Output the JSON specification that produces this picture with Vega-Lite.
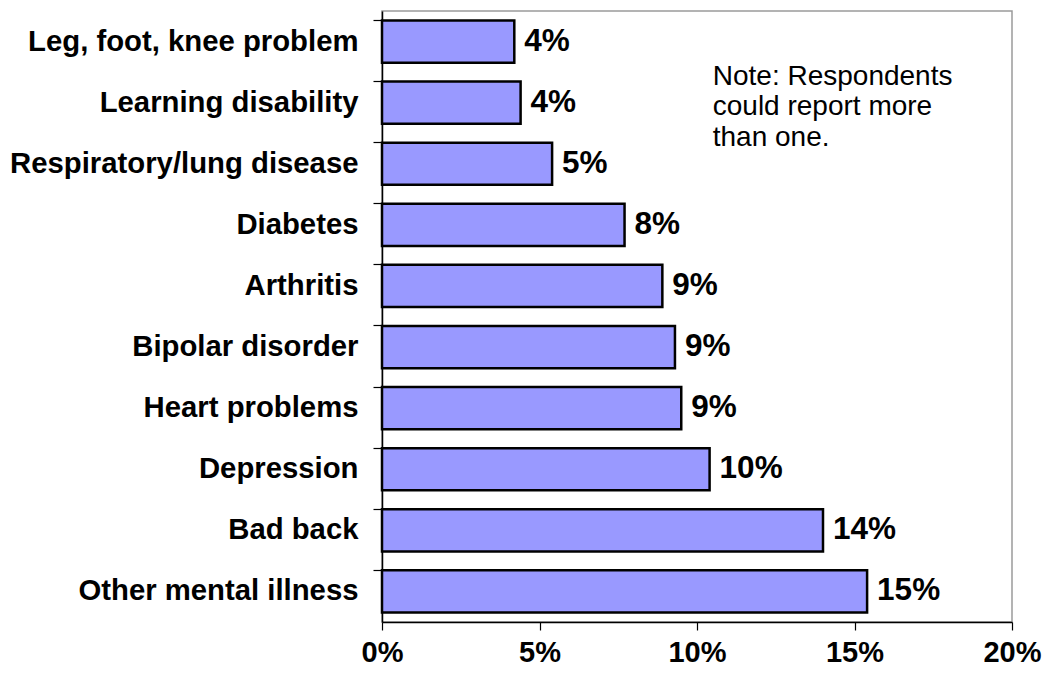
{
  "$schema": "https://vega.github.io/schema/vega-lite/v6.json",
  "width": 630,
  "height": 611,
  "autosize": {"type": "none"},
  "padding": {"left": 382, "top": 11, "right": 39, "bottom": 53},
  "background": "white",
  "config": {
    "font": "Liberation Sans",
    "view": {"stroke": "#9a9a9a", "strokeWidth": 1.5}
  },
  "data": {
    "values": [
      {"condition": "Leg, foot, knee problem", "pct": 4.2, "label": "4%"},
      {"condition": "Learning disability", "pct": 4.4, "label": "4%"},
      {"condition": "Respiratory/lung disease", "pct": 5.4, "label": "5%"},
      {"condition": "Diabetes", "pct": 7.7, "label": "8%"},
      {"condition": "Arthritis ", "pct": 8.9, "label": "9%"},
      {"condition": "Bipolar disorder", "pct": 9.3, "label": "9%"},
      {"condition": "Heart problems", "pct": 9.5, "label": "9%"},
      {"condition": "Depression", "pct": 10.4, "label": "10%"},
      {"condition": "Bad back", "pct": 14.0, "label": "14%"},
      {"condition": "Other mental illness", "pct": 15.4, "label": "15%"}
    ]
  },
  "encoding": {
    "y": {
      "field": "condition",
      "type": "nominal",
      "sort": null,
      "scale": {"paddingInner": 0.31, "paddingOuter": 0.155},
      "axis": {
        "title": null,
        "bandPosition": 0,
        "domainColor": "black",
        "domainWidth": 1.5,
        "tickColor": "black",
        "tickWidth": 1.2,
        "tickSize": 9,
        "labelFontSize": 29.3,
        "labelFontWeight": "bold",
        "labelColor": "black",
        "labelPadding": 15,
        "labelLimit": 400,
        "labelExpr": "datum.value == 'Arthritis ' ? 'Arthritis\u00a0' : datum.value"
      }
    },
    "x": {
      "field": "pct",
      "type": "quantitative",
      "scale": {"domain": [0, 20], "nice": false},
      "axis": {
        "title": null,
        "values": [0, 5, 10, 15, 20],
        "grid": false,
        "domainColor": "black",
        "domainWidth": 1.5,
        "tickColor": "black",
        "tickWidth": 1.2,
        "tickSize": 8,
        "labelFontSize": 29,
        "labelFontWeight": "bold",
        "labelColor": "black",
        "labelPadding": 8,
        "labelFlush": false,
        "labelExpr": "datum.value + '%'"
      }
    }
  },
  "layer": [
    {
      "mark": {"type": "bar", "fill": "#9999FF", "stroke": "black", "strokeWidth": 2.5}
    },
    {
      "mark": {"type": "text", "align": "left", "baseline": "middle", "dx": 10, "fontSize": 31.5, "fontWeight": "bold", "color": "black"},
      "encoding": {"text": {"field": "label"}}
    },
    {
      "data": {"values": [{"note": ["Note: Respondents", "could report more", "than one."], "nx": 10.5, "ny": "Learning disability"}]},
      "mark": {"type": "text", "align": "left", "baseline": "middle", "dy": -26, "fontSize": 28, "lineHeight": 30.5, "color": "black"},
      "encoding": {
        "x": {"field": "nx", "type": "quantitative"},
        "y": {"field": "ny", "type": "nominal", "sort": null},
        "text": {"field": "note"}
      }
    }
  ]
}
